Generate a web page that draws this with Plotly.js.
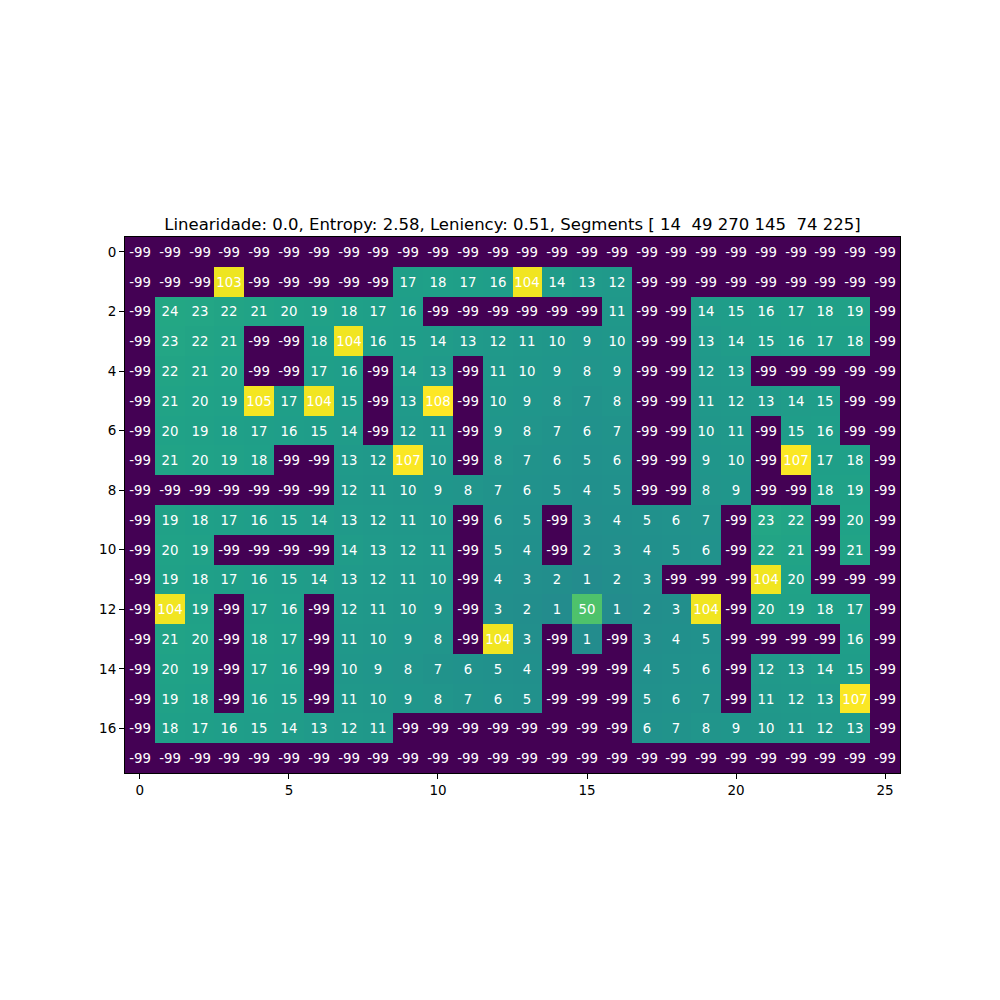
<!DOCTYPE html>
<html>
<head>
<meta charset="utf-8">
<script src="https://cdn.plot.ly/plotly-3.0.1.min.js"></script>
<style>body{margin:0;background:#fff;}#chart{width:1000px;height:1000px;}</style>
</head>
<body>
<div id="chart"></div>
<script>
const titleText = "Linearidade: 0.0, Entropy: 2.58, Leniency: 0.51, Segments [ 14  49 270 145  74 225]";
const row0  = [-99,-99,-99,-99,-99,-99,-99,-99,-99,-99,-99,-99,-99,-99,-99,-99,-99,-99,-99,-99,-99,-99,-99,-99,-99,-99];
const row1  = [-99,-99,-99,103,-99,-99,-99,-99,-99,17,18,17,16,104,14,13,12,-99,-99,-99,-99,-99,-99,-99,-99,-99];
const row2  = [-99,24,23,22,21,20,19,18,17,16,-99,-99,-99,-99,-99,-99,11,-99,-99,14,15,16,17,18,19,-99];
const row3  = [-99,23,22,21,-99,-99,18,104,16,15,14,13,12,11,10,9,10,-99,-99,13,14,15,16,17,18,-99];
const row4  = [-99,22,21,20,-99,-99,17,16,-99,14,13,-99,11,10,9,8,9,-99,-99,12,13,-99,-99,-99,-99,-99];
const row5  = [-99,21,20,19,105,17,104,15,-99,13,108,-99,10,9,8,7,8,-99,-99,11,12,13,14,15,-99,-99];
const row6  = [-99,20,19,18,17,16,15,14,-99,12,11,-99,9,8,7,6,7,-99,-99,10,11,-99,15,16,-99,-99];
const row7  = [-99,21,20,19,18,-99,-99,13,12,107,10,-99,8,7,6,5,6,-99,-99,9,10,-99,107,17,18,-99];
const row8  = [-99,-99,-99,-99,-99,-99,-99,12,11,10,9,8,7,6,5,4,5,-99,-99,8,9,-99,-99,18,19,-99];
const row9  = [-99,19,18,17,16,15,14,13,12,11,10,-99,6,5,-99,3,4,5,6,7,-99,23,22,-99,20,-99];
const row10 = [-99,20,19,-99,-99,-99,-99,14,13,12,11,-99,5,4,-99,2,3,4,5,6,-99,22,21,-99,21,-99];
const row11 = [-99,19,18,17,16,15,14,13,12,11,10,-99,4,3,2,1,2,3,-99,-99,-99,104,20,-99,-99,-99];
const row12 = [-99,104,19,-99,17,16,-99,12,11,10,9,-99,3,2,1,50,1,2,3,104,-99,20,19,18,17,-99];
const row13 = [-99,21,20,-99,18,17,-99,11,10,9,8,-99,104,3,-99,1,-99,3,4,5,-99,-99,-99,-99,16,-99];
const row14 = [-99,20,19,-99,17,16,-99,10,9,8,7,6,5,4,-99,-99,-99,4,5,6,-99,12,13,14,15,-99];
const row15 = [-99,19,18,-99,16,15,-99,11,10,9,8,7,6,5,-99,-99,-99,5,6,7,-99,11,12,13,107,-99];
const row16 = [-99,18,17,16,15,14,13,12,11,-99,-99,-99,-99,-99,-99,-99,-99,6,7,8,9,10,11,12,13,-99];
const row17 = [-99,-99,-99,-99,-99,-99,-99,-99,-99,-99,-99,-99,-99,-99,-99,-99,-99,-99,-99,-99,-99,-99,-99,-99,-99,-99];
const grid = [row0,row1,row2,row3,row4,row5,row6,row7,row8,row9,row10,row11,row12,row13,row14,row15,row16,row17];
const xTicks = [0,5,10,15,20,25];
const yTicks = [0,2,4,6,8,10,12,14,16];

const font = "DejaVu Sans, sans-serif";
const labels = grid.map(r => r.map(v => String(v)));
const trace = {
  type: 'heatmap',
  z: grid,
  text: labels,
  colorscale: 'Viridis',
  zmin: -99, zmax: 108,
  showscale: false,
  texttemplate: '%{text}',
  textfont: {family: font, size: 13.3, color: '#ffffff'},
  hoverinfo: 'skip'
};
const layout = {
  width: 1000, height: 1000,
  paper_bgcolor: '#ffffff', plot_bgcolor: '#ffffff',
  margin: {l: 125, r: 100, t: 237, b: 227, pad: 0},
  font: {family: font, color: '#000'},
  title: {text: titleText, font: {family: font, size: 16.5, color: '#000'},
          x: 0.5, xanchor: 'center', xref: 'paper', y: 1, yref: 'paper', yanchor: 'bottom', pad: {b: 7}},
  xaxis: {range: [-0.5, 25.5], tickmode: 'array', tickvals: xTicks, ticktext: xTicks.map(String),
          ticks: 'outside', ticklen: 5, tickwidth: 1, tickcolor: '#000', showgrid: false, zeroline: false,
          showline: true, linecolor: '#000', linewidth: 1, mirror: true, tickfont: {family: font, size: 13.5, color: '#000'}},
  yaxis: {range: [17.5, -0.5], tickmode: 'array', tickvals: yTicks, ticktext: yTicks.map(String),
          ticks: 'outside', ticklen: 5, tickwidth: 1, tickcolor: '#000', showgrid: false, zeroline: false,
          showline: true, linecolor: '#000', linewidth: 1, mirror: true, tickfont: {family: font, size: 13.5, color: '#000'}}
};
Plotly.newPlot('chart', [trace], layout, {displayModeBar: false, staticPlot: true});
</script>
</body>
</html>
